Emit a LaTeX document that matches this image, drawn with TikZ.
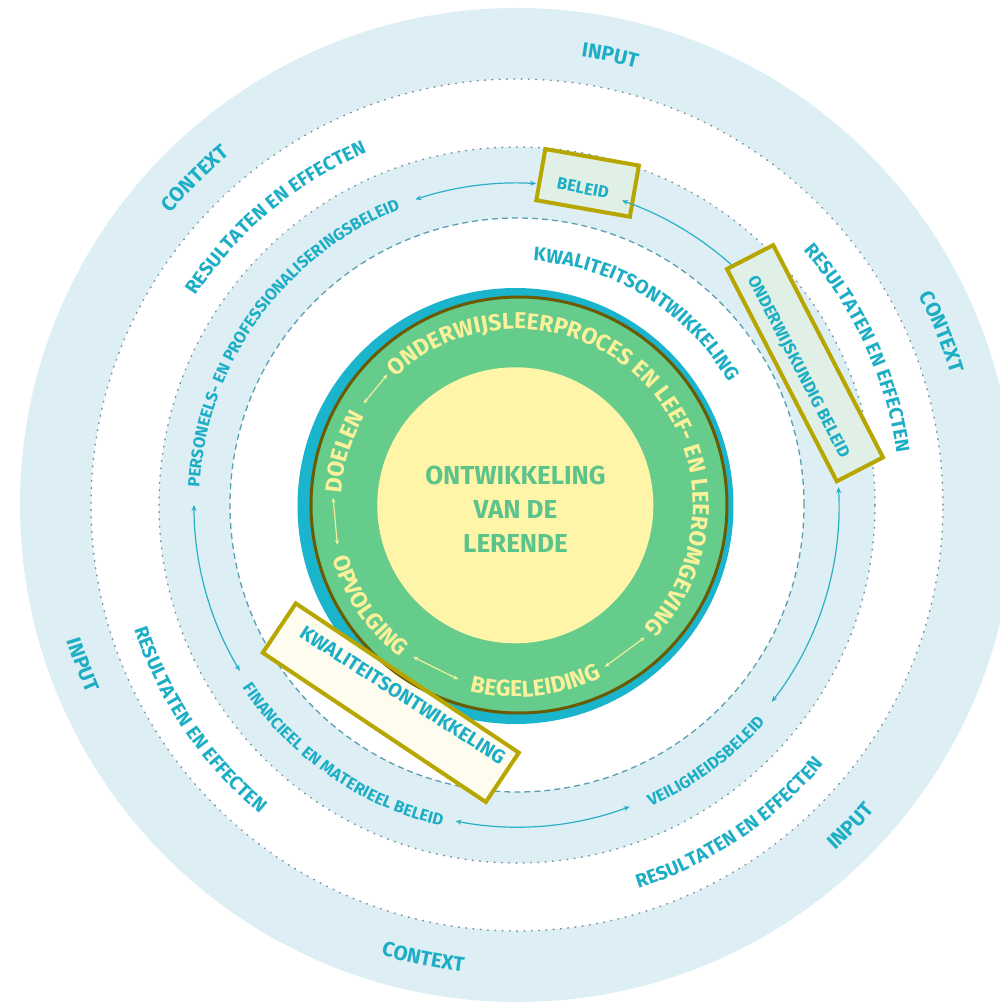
\documentclass[tikz,border=0pt]{standalone}
\usepackage{fontspec}
\setmainfont{Fira Sans}
\usetikzlibrary{decorations.text,arrows.meta}
\definecolor{bandblue}{HTML}{DDEFF4}
\definecolor{tealtxt}{HTML}{1DAEC6}
\definecolor{dotcol}{HTML}{7896A0}
\definecolor{dashcol}{HTML}{5A9FB2}
\definecolor{tealdisk}{HTML}{1AB4CC}
\definecolor{greenring}{HTML}{66CC8C}
\definecolor{browncol}{HTML}{6B5A00}
\definecolor{ydisk}{HTML}{FFF5A8}
\definecolor{ytext}{HTML}{FBF19A}
\definecolor{ctext}{HTML}{5CC48A}
\definecolor{goldcol}{HTML}{B8A600}
\definecolor{mintfill}{HTML}{E0F0E6}
\definecolor{creamfill}{HTML}{FDFCEE}
\definecolor{arrowteal}{HTML}{2AAFC5}
\newcommand\fOut{\fontsize{20.5}{24}\selectfont\bfseries\color{tealtxt}}
\newcommand\fMid{\fontsize{19.3}{23}\selectfont\bfseries\color{tealtxt}}
\newcommand\fPol{\fontsize{16.5}{20}\selectfont\bfseries\color{tealtxt}}
\newcommand\fKw{\fontsize{19.5}{23}\selectfont\bfseries\color{tealtxt}}
\newcommand\fGr{\fontsize{23}{27}\selectfont\bfseries\color{ytext}}
% clockwise text (tops outward): radius, centre angle, half span, style, text
\newcommand\cwtext[5]{\path[decorate,decoration={text along path,text align=center,text={|#4|#5}}] ({#2+#3}:#1pt) arc[start angle={#2+#3},end angle={#2-#3},radius=#1pt];}
% counter-clockwise text (tops inward)
\newcommand\ccwtext[5]{\path[decorate,decoration={text along path,text align=center,text={|#4|#5}}] ({#2-#3}:#1pt) arc[start angle={#2-#3},end angle={#2+#3},radius=#1pt];}
\begin{document}
\begin{tikzpicture}[x=1pt,y=1pt,
  dotline/.style={draw=dotcol,line width=1.5pt,line cap=round,dash pattern=on 0.8pt off 6.5pt},
  dashline/.style={draw=dashcol,line width=1.3pt,dash pattern=on 6pt off 4pt},
  parrow/.style={draw=arrowteal,line width=1.2pt,arrows={Stealth[length=6pt,width=5pt]-Stealth[length=6pt,width=5pt]}},
  parrowone/.style={draw=arrowteal,line width=1.2pt,arrows={Stealth[length=6pt,width=5pt]-}},
  yarrow/.style={draw=ytext,line width=1.1pt,arrows={Stealth[length=5pt,width=4pt]-Stealth[length=5pt,width=4pt]}},
  boxmint/.style={draw=goldcol,line width=4pt,fill=mintfill,inner sep=0pt},
  boxtext/.style={text=tealtxt,font=\fontsize{16.8}{20}\selectfont\bfseries,inner sep=0pt},
  kwtext/.style={text=tealtxt,font=\fontsize{19.5}{23}\selectfont\bfseries,inner sep=0pt}]
\useasboundingbox (-517,-500) rectangle (483,505);
\clip (-517,-500) rectangle (483,505);
% rings
\fill[bandblue] (0,0) circle[radius=497pt];
\fill[white] (0,0) circle[radius=426pt];
\fill[bandblue] (0,0) circle[radius=358pt];
\fill[white] (0,0) circle[radius=287pt];
\draw[dotline] (0,0) circle[radius=426pt];
\draw[dotline] (0,0) circle[radius=358pt];
\draw[dashline] (0,0) circle[radius=287pt];
% outer ring texts
\cwtext{453}{78.3}{40}{\fOut}{INPUT}
\cwtext{453}{134.6}{40}{\fOut}{CONTEXT}
\cwtext{453}{22.2}{40}{\fOut}{CONTEXT}
\ccwtext{470}{200.2}{40}{\fOut}{INPUT}
\ccwtext{470}{258.3}{40}{\fOut}{CONTEXT}
\ccwtext{470}{-43.9}{40}{\fOut}{INPUT}
% middle ring texts
\cwtext{383}{130}{40}{\fMid}{RESULTATEN EN EFFECTEN}
\cwtext{383}{24.7}{40}{\fMid}{RESULTATEN EN EFFECTEN}
\ccwtext{402}{214.1}{40}{\fMid}{RESULTATEN EN EFFECTEN}
\ccwtext{402}{-56.3}{40}{\fMid}{RESULTATEN EN EFFECTEN}
% policy ring texts
\cwtext{318}{144.2}{50}{\fPol}{PERSONEELS- EN PROFESSIONALISERINGSBELEID}
\ccwtext{330}{-53.65}{40}{\fPol}{VEILIGHEIDSBELEID}
\ccwtext{330}{235.2}{40}{\fPol}{FINANCIEEL EN MATERIEEL BELEID}
% inner white ring text
\cwtext{244.5}{58.15}{50}{\fKw}{KWALITEITSONTWIKKELING}
% policy boxes
\node[boxmint,minimum width=95pt,minimum height=52pt,rotate=-10] (beleidbox) at (70.6,322.1) {};
\node[boxtext,rotate=-11] (beleidtxt) at (66,317) {BELEID};
\node[boxmint,minimum width=239pt,minimum height=52pt,rotate=-62.65] (okbox) at (288,141.8) {};
\node[boxtext,rotate=-62.6] (oktxt) at (281,138) {ONDERWIJSKUNDIG BELEID};
% policy ring arrows
\coordinate (pa1) at (108.4:322pt);
\coordinate (pa2) at (86.6:322pt);
\draw[parrow] (pa1) arc[start angle=108.4,end angle=86.6,radius=322pt];
\coordinate (pb1) at (71:322pt);
\coordinate (pb2) at (48.3:322pt);
\draw[parrowone] (pb1) arc[start angle=71,end angle=48.3,radius=322pt];
\coordinate (pc1) at (3.2:322pt);
\draw[parrow] (pc1) arc[start angle=3.2,end angle=-37.7,radius=322pt];
\coordinate (pd1) at (-69.5:322pt);
\draw[parrow] (pd1) arc[start angle=-69.5,end angle=-101,radius=322pt];
\coordinate (pe1) at (210.9:323pt);
\draw[parrow] (pe1) arc[start angle=210.9,end angle=180,radius=323pt];
% centre
\fill[tealdisk] (-1.5,-1) circle[radius=218pt];
\node[fill=creamfill,draw=none,inner sep=0pt,minimum width=268pt,minimum height=59pt,rotate=-33.8] (kwbox) at (-126.2,-197.7) {};
\filldraw[fill=greenring,draw=browncol,line width=3pt] (2,0) circle[radius=208pt];
\fill[ydisk] (-1.7,-0.3) circle[radius=138pt];
\draw[goldcol,line width=4pt,line join=miter] (kwbox.north west) -- (kwbox.north east) -- (kwbox.south east) -- (kwbox.south west) -- cycle;
\node[kwtext,rotate=-32.5] (kwtxt) at (-114.2,-190) {KWALITEITSONTWIKKELING};
% green ring texts
\cwtext{176}{44.75}{100}{\fGr}{ONDERWIJSLEERPROCES EN LEEF- EN LEEROMGEVING}
\cwtext{176}{163}{30}{\fGr}{DOELEN}
\ccwtext{192}{214.25}{30}{\fGr}{OPVOLGING}
\ccwtext{192}{275.9}{40}{\fGr}{BEGELEIDING}
% green ring arrows
\coordinate (ga1) at (146.5:184pt); \coordinate (ga2) at (134.8:184pt);
\draw[yarrow] (ga1) -- (ga2);
\coordinate (gb1) at (177.8:184pt); \coordinate (gb2) at (192.5:184pt);
\draw[yarrow] (gb1) -- (gb2);
\coordinate (gc1) at (235.6:184pt); \coordinate (gc2) at (251.4:184pt);
\draw[yarrow] (gc1) -- (gc2);
\coordinate (gd1) at (-61.5:184pt); \coordinate (gd2) at (-46:184pt);
\draw[yarrow] (gd1) -- (gd2);
% centre text
\node[align=center,font=\fontsize{26}{34}\selectfont\bfseries,text=ctext] (centertxt) at (-1.5,-4) {ONTWIKKELING\\VAN DE\\LERENDE};
\end{tikzpicture}
\end{document}
